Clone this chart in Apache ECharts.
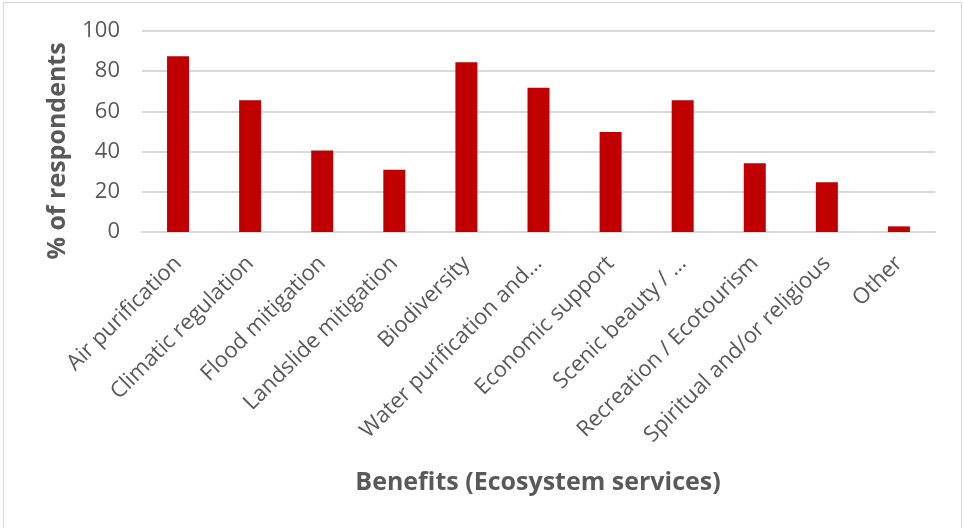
<!DOCTYPE html>
<html><head><meta charset="utf-8">
<script src="https://cdn.jsdelivr.net/npm/echarts@6/dist/echarts.min.js"></script>
<style>
html,body{margin:0;padding:0;background:#fff;}
#frame{position:absolute;left:3px;top:2px;width:959px;height:540px;border:1px solid #d9d9d9;box-sizing:border-box;}
#c{position:absolute;left:0;top:0;width:964px;height:528px;}
</style></head>
<body><div id="frame"></div><div id="c"></div>
<script>
var categories = ["Air purification","Climatic regulation","Flood mitigation","Landslide mitigation","Biodiversity","Water purification and…","Economic support","Scenic beauty / …","Recreation / Ecotourism","Spiritual and/or religious","Other"];
var values = [87.5, 65.5, 40.5, 31, 84.4, 71.8, 49.8, 65.5, 34.2, 24.7, 2.8];
var yTicks = {min: 0, max: 100, interval: 20};
var yTitle = "% of respondents";
var xTitle = "Benefits (Ecosystem services)";

var font = "'Open Sans', Lato, sans-serif";
var chart = echarts.init(document.getElementById('c'), null, {renderer: 'canvas'});
chart.setOption({
  animation: false,
  backgroundColor: 'transparent',
  grid: {left: 142, right: 29, top: 31, bottom: 296, containLabel: false},
  xAxis: {
    type: 'category', data: categories,
    axisLine: {show: true, lineStyle: {color: '#d9d9d9', width: 2}},
    axisTick: {show: false},
    axisLabel: {rotate: 45, color: '#595959', fontSize: 22, fontFamily: font, margin: 28, interval: 0}
  },
  yAxis: {
    type: 'value', min: yTicks.min, max: yTicks.max, interval: yTicks.interval,
    axisLine: {show: false}, axisTick: {show: false},
    splitLine: {lineStyle: {color: '#d9d9d9', width: 2}},
    axisLabel: {color: '#595959', fontSize: 22, fontFamily: font, margin: 22}
  },
  series: [{type: 'bar', data: values, barWidth: 22, itemStyle: {color: '#C00000'}}],
  graphic: [
    {type: 'text', x: 58, y: 151, rotation: Math.PI/2,
     style: {text: yTitle, font: 'bold 25px ' + font, fill: '#595959', textAlign: 'center', textVerticalAlign: 'middle'}},
    {type: 'text', x: 538, y: 483,
     style: {text: xTitle, font: 'bold 25px ' + font, fill: '#595959', textAlign: 'center', textVerticalAlign: 'middle'}}
  ]
});
</script></body></html>
